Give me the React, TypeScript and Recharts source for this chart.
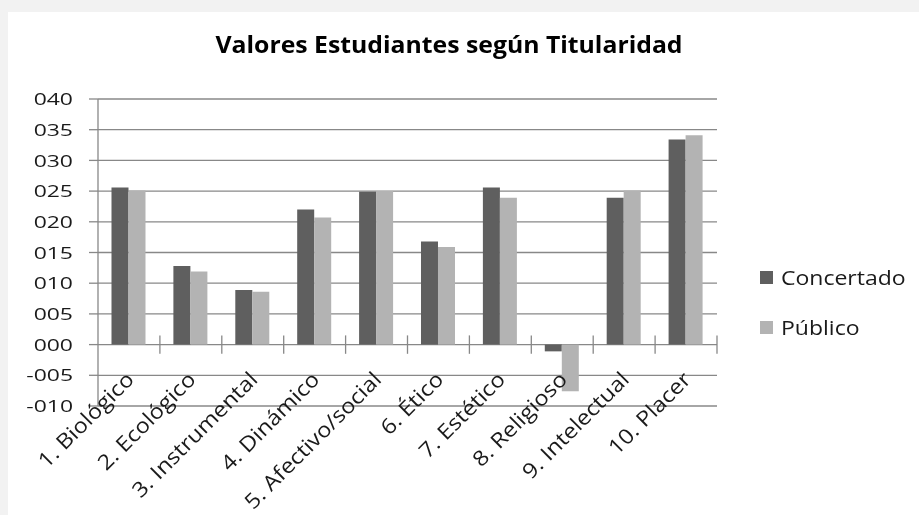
import React from 'react';
import { BarChart, Bar, XAxis, YAxis, CartesianGrid, ReferenceLine, Legend } from 'recharts';

const categories = ['1. Biológico', '2. Ecológico', '3. Instrumental', '4. Dinámico', '5. Afectivo/social', '6. Ético', '7. Estético', '8. Religioso', '9. Intelectual', '10. Placer'];
const concertado = [25.6, 12.8, 8.9, 22.0, 24.9, 16.8, 25.6, -1.1, 23.9, 33.4];
const publico = [25.1, 11.9, 8.6, 20.7, 25.0, 15.9, 23.9, -7.6, 25.1, 34.1];
const yTicks = [-10, -5, 0, 5, 10, 15, 20, 25, 30, 35, 40];
const seriesNames = ['Concertado', 'Público'];
const title = 'Valores Estudiantes según Titularidad';

const data = categories.map((name, i) => ({ name, Concertado: concertado[i], 'Público': publico[i] }));

const W = 911;
const H = 503;
const M = { top: 87, right: 202, bottom: 0, left: 0 };
const XH = 109;
const Y_MIN = -10;
const Y_MAX = 40;
const PLOT_H = H - M.top - M.bottom - XH;
const ZERO_FROM_BOTTOM = (PLOT_H * (0 - Y_MIN)) / (Y_MAX - Y_MIN);

const DARK = '#5f5f5f';
const LIGHT = '#b3b3b3';
const GRID = '#888888';
const FONT = '"Open Sans", sans-serif';
const TXT = '#1a1a1a';
const PAGE = '#f2f2f2';

const fmt = (v: number) => (v < 0 ? '-' : '') + String(Math.abs(v)).padStart(3, '0');

const YTick = (props: any) => {
  const { x, y, payload } = props;
  return (
    <text transform={`translate(${x},${y}) scale(1.35,1)`} textAnchor="end" dy="0.36em" fontFamily={FONT} fontSize={17} fill={TXT}>
      {fmt(payload.value)}
    </text>
  );
};

const XTick = (props: any) => {
  const { x, y, payload } = props;
  const ay = y - ZERO_FROM_BOTTOM + 31;
  return (
    <text transform={`translate(${x + 1},${ay}) rotate(-45) scale(1.12,1)`} textAnchor="end" dy="0.35em" fontFamily={FONT} fontSize={21} fill={TXT}>
      {payload.value}
    </text>
  );
};

const renderLegend = () => (
  <div style={{ display: 'flex', flexDirection: 'column' }}>
    {seriesNames.map((n, i) => (
      <div key={n} style={{ height: 50, display: 'flex', alignItems: 'center' }}>
        <span style={{ width: 13, height: 13, background: i === 0 ? DARK : LIGHT, display: 'inline-block' }} />
        <span style={{ marginLeft: 8, fontFamily: FONT, fontSize: 20, color: TXT, display: 'inline-block', whiteSpace: 'nowrap', transform: 'scaleX(1.15)', transformOrigin: 'left center' }}>{n}</span>
      </div>
    ))}
  </div>
);

export default function App() {
  return (
    <div style={{ position: 'relative', top: 4, width: W, height: H, background: '#ffffff' }}>
      <style>{`body{background:#ffffff;}`}</style>
      <div style={{ position: 'fixed', left: 0, top: 0, width: 8, height: '100%', background: PAGE }} />
      <div style={{ position: 'fixed', left: 0, top: 0, width: '100%', height: 12, background: PAGE }} />
      <svg width={W} height={60} style={{ position: 'absolute', left: 0, top: 0 }}>
        <text transform="translate(441,41) scale(1.055,1)" textAnchor="middle" fontFamily={FONT} fontWeight={700} fontSize={23.5} fill="#000">
          {title}
        </text>
      </svg>
      <BarChart width={W} height={H} data={data} margin={M} barCategoryGap="21.8%" barGap={0}>
        <CartesianGrid vertical={false} stroke={GRID} strokeWidth={1.3} />
        <XAxis xAxisId="c" dataKey="name" height={XH} axisLine={false} tickLine={false} tickSize={0} tickMargin={0} interval={0} tick={<XTick />} />
        <YAxis domain={[Y_MIN, Y_MAX]} ticks={yTicks} width={90} tickSize={9} tickMargin={16} interval={0}
          axisLine={{ stroke: GRID, strokeWidth: 1.3 }} tickLine={{ stroke: GRID, strokeWidth: 1.3 }} tick={<YTick />} />
        <Bar xAxisId="c" dataKey="Concertado" fill={DARK} isAnimationActive={false} />
        <Bar xAxisId="c" dataKey="Público" fill={LIGHT} isAnimationActive={false} />
        {categories.map((c) => (
          <ReferenceLine key={c} xAxisId="c" position="end" segment={[{ x: c, y: -1.5 }, { x: c, y: 1.5 }]} stroke={GRID} strokeWidth={1.3} ifOverflow="visible" />
        ))}
        <Legend layout="vertical" align="center" verticalAlign="middle" wrapperStyle={{ left: 752, top: 240, width: 159 }} content={renderLegend} />
      </BarChart>
    </div>
  );
}
